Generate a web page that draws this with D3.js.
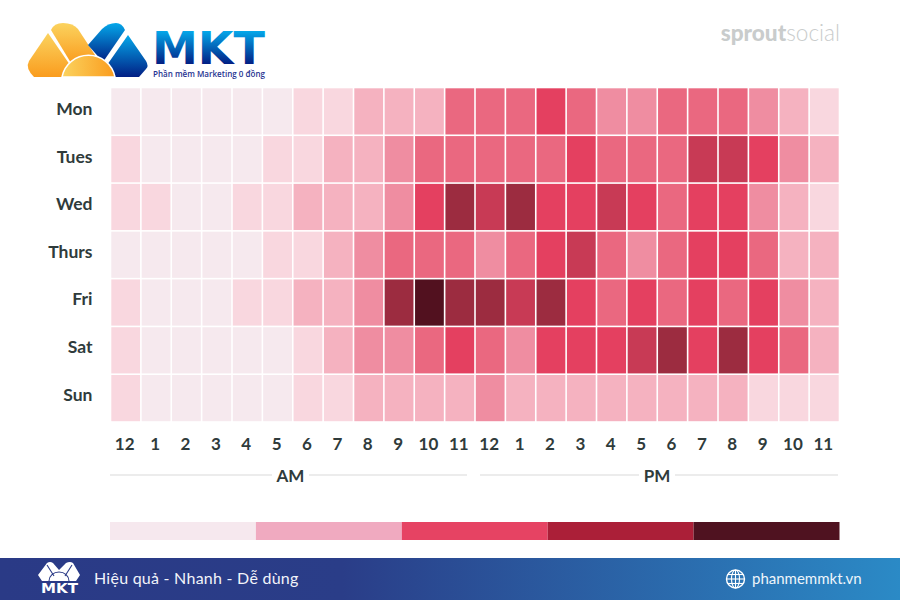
<!DOCTYPE html>
<html>
<head>
    <meta charset="utf-8">
    <script src="https://d3js.org/d3.v7.min.js"></script>
    <style>
        html, body { margin: 0; padding: 0; background: #fff; }
        svg { display: block; }
        text { font-family: Lato, "Open Sans", sans-serif; }
    </style>
</head>
<body>
    <svg id="chart" width="900" height="600"></svg>

    <script>
        // Chart data (engagement level per hour, 0 = lowest)
        var days = ["Mon", "Tues", "Wed", "Thurs", "Fri", "Sat", "Sun"];
        var hourLabels = ["12", "1", "2", "3", "4", "5", "6", "7", "8", "9", "10", "11",
                          "12", "1", "2", "3", "4", "5", "6", "7", "8", "9", "10", "11"];
        var mon   = [0, 0, 0, 0, 0, 0, 1, 1, 2, 2, 2, 4, 4, 4, 5, 4, 3, 3, 4, 4, 4, 3, 2, 1];
        var tues  = [1, 0, 0, 0, 0, 1, 1, 2, 2, 3, 4, 4, 4, 4, 4, 5, 4, 4, 4, 6, 6, 5, 3, 2];
        var wed   = [1, 1, 0, 0, 1, 1, 2, 2, 2, 3, 5, 7, 6, 7, 5, 5, 6, 5, 4, 5, 5, 3, 2, 1];
        var thurs = [0, 0, 0, 0, 0, 1, 1, 2, 3, 4, 4, 4, 3, 4, 5, 6, 4, 3, 4, 5, 5, 4, 2, 2];
        var fri   = [1, 0, 0, 0, 1, 1, 2, 2, 3, 7, 8, 7, 7, 6, 7, 5, 4, 5, 4, 5, 4, 5, 3, 2];
        var sat   = [1, 0, 0, 0, 0, 0, 1, 2, 3, 3, 4, 5, 4, 3, 5, 5, 5, 6, 7, 5, 7, 5, 4, 2];
        var sun   = [1, 0, 0, 0, 0, 0, 1, 1, 2, 2, 2, 2, 3, 2, 2, 2, 2, 2, 2, 2, 2, 1, 1, 1];
        var rows = [mon, tues, wed, thurs, fri, sat, sun];

        var levels = [0, 1, 2, 3, 4, 5, 6, 7, 8];
        var levelColors = ["#f6e9ee", "#f9d7df", "#f5b2c0", "#ef8da1", "#ea6880",
                           "#e44060", "#c83a55", "#9c2c40", "#52111f"];
        var legendSteps = [0, 1, 2, 3, 4];
        var legendColors = ["#f6e8ee", "#f0aac0", "#e64363", "#ab1f38", "#4f1220"];

        var svg = d3.select("#chart");
        var textColor = "#2f3b3b";

        var x = d3.scaleBand().domain(d3.range(24)).range([110.5, 839.5]);
        var y = d3.scaleBand().domain(days).range([87.5, 422]);
        var dayLabelY = d3.scalePoint().domain(days).range([115, 400.5]);
        var color = d3.scaleOrdinal().domain(levels).range(levelColors);

        // Heatmap cells
        svg.append("g").selectAll("g")
            .data(rows)
            .join("g")
            .each(function (row, r) {
                d3.select(this).selectAll("rect")
                    .data(row)
                    .join("rect")
                    .attr("x", (d, i) => x(i) + 0.8)
                    .attr("y", y(days[r]) + 0.8)
                    .attr("width", x.bandwidth() - 1.6)
                    .attr("height", y.bandwidth() - 1.6)
                    .attr("fill", d => color(d));
            });

        // Day labels
        svg.append("g").selectAll("text")
            .data(days)
            .join("text")
            .attr("x", 92.5)
            .attr("y", d => dayLabelY(d))
            .attr("text-anchor", "end")
            .attr("font-size", 17.5)
            .attr("font-weight", 700)
            .attr("fill", textColor)
            .text(d => d);

        // Hour labels
        svg.append("g").selectAll("text")
            .data(hourLabels)
            .join("text")
            .attr("x", (d, i) => x(i) + x.bandwidth() / 2 - 1)
            .attr("y", 450)
            .attr("text-anchor", "middle")
            .attr("font-size", 17)
            .attr("font-weight", 700)
            .attr("fill", textColor)
            .text(d => d);

        // AM / PM brackets
        var periods = [
            { label: "AM", x1: 110, x2: 467, left: 272, right: 309 },
            { label: "PM", x1: 480, x2: 838, left: 639, right: 675 }
        ];
        periods.forEach(p => {
            svg.append("line").attr("x1", p.x1).attr("x2", p.left).attr("y1", 475).attr("y2", 475)
                .attr("stroke", "#e6e6e6").attr("stroke-width", 1.5);
            svg.append("line").attr("x1", p.right).attr("x2", p.x2).attr("y1", 475).attr("y2", 475)
                .attr("stroke", "#e6e6e6").attr("stroke-width", 1.5);
            svg.append("text")
                .attr("x", (p.left + p.right) / 2)
                .attr("y", 482)
                .attr("text-anchor", "middle")
                .attr("font-size", 17)
                .attr("font-weight", 700)
                .attr("fill", textColor)
                .text(p.label);
        });

        // Legend bar
        var legendX = d3.scaleBand().domain(legendSteps).range([110, 839.5]);
        svg.append("g").selectAll("rect")
            .data(legendSteps)
            .join("rect")
            .attr("x", d => legendX(d))
            .attr("y", 522)
            .attr("width", legendX.bandwidth())
            .attr("height", 18)
            .attr("fill", (d, i) => legendColors[i]);

        // Legend captions, almost entirely hidden by the footer in the reference
        svg.append("text").attr("x", 110).attr("y", 570.5).attr("font-size", 17)
            .attr("letter-spacing", 0.5).attr("font-weight", 700).attr("fill", "#6f7777").text("Lowest Traffic");
        svg.append("text").attr("x", 675).attr("y", 570.5).attr("font-size", 17)
            .attr("letter-spacing", 0.5).attr("font-weight", 700).attr("fill", "#6f7777").text("Highest Traffic");

        // sproutsocial wordmark
        var wordmark = svg.append("text").attr("x", 840).attr("y", 41).attr("text-anchor", "end")
            .attr("font-size", 22.6).attr("fill", "#c9cccc");
        wordmark.append("tspan").attr("font-weight", 900).text("sprout");
        wordmark.append("tspan").attr("font-weight", 300).text("social");

        // Footer band
        var defs = svg.append("defs");
        var footerGrad = defs.append("linearGradient").attr("id", "footerGrad");
        footerGrad.append("stop").attr("offset", "0%").attr("stop-color", "#2a3a86");
        footerGrad.append("stop").attr("offset", "38%").attr("stop-color", "#2a3d88");
        footerGrad.append("stop").attr("offset", "100%").attr("stop-color", "#2b8ac6");
        svg.append("rect").attr("x", 0).attr("y", 558).attr("width", 900).attr("height", 42)
            .attr("fill", "url(#footerGrad)");

        svg.append("text").attr("x", 94).attr("y", 584).attr("font-size", 16)
            .attr("letter-spacing", 0.25).attr("fill", "#f2f4fa").text("Hiệu quả - Nhanh - Dễ dùng");
        svg.append("text").attr("x", 752).attr("y", 584).attr("font-size", 15)
            .attr("fill", "#eef5fb").text("phanmemmkt.vn");

        // Globe icon
        var globe = svg.append("g").attr("transform", "translate(735.5,579)")
            .attr("fill", "none").attr("stroke", "#fff").attr("stroke-width", 1.1);
        globe.append("circle").attr("r", 9).attr("stroke-width", 1.4);
        globe.append("ellipse").attr("rx", 4).attr("ry", 9);
        globe.append("line").attr("x1", 0).attr("x2", 0).attr("y1", -9).attr("y2", 9);
        globe.append("line").attr("x1", -9).attr("x2", 9).attr("y1", 0).attr("y2", 0);
        globe.append("line").attr("x1", -8).attr("x2", 8).attr("y1", -4.5).attr("y2", -4.5);
        globe.append("line").attr("x1", -8).attr("x2", 8).attr("y1", 4.5).attr("y2", 4.5);

        // Footer logo
        var small = svg.append("g");
        small.append("path").attr("fill", "#fff")
            .attr("d", "M38 575 L47 563 Q50 561 53 563 L59 570 L66 563 Q70 561 73 563 L80 575 L76 581 L42 581 Z");
        small.append("path").attr("fill", "none").attr("stroke", "#2a3a86").attr("stroke-width", 1.1)
            .attr("d", "M47 565 L54 576 M72 565 L65 576 M49 581 A10 9 0 0 1 69 581");
        small.append("text").attr("x", 41).attr("y", 593)
            .style("font-family", "'DejaVu Sans', sans-serif")
            .attr("font-size", 14).attr("font-weight", 700)
            .attr("textLength", 37).attr("lengthAdjust", "spacingAndGlyphs")
            .attr("fill", "#fff").text("MKT");

        // Header logo
        var orange = defs.append("linearGradient").attr("id", "logoOrange").attr("x2", 0).attr("y2", 1);
        orange.append("stop").attr("offset", "0%").attr("stop-color", "#fbd35f");
        orange.append("stop").attr("offset", "100%").attr("stop-color", "#fa9c1e");
        var blue = defs.append("linearGradient").attr("id", "logoBlue").attr("x2", 0).attr("y2", 1);
        blue.append("stop").attr("offset", "0%").attr("stop-color", "#04a8ea");
        blue.append("stop").attr("offset", "100%").attr("stop-color", "#021f84");
        var blueText = defs.append("linearGradient").attr("id", "logoBlueText")
            .attr("gradientUnits", "userSpaceOnUse").attr("x1", 0).attr("x2", 0).attr("y1", 31).attr("y2", 64);
        blueText.append("stop").attr("offset", "0%").attr("stop-color", "#04a8ea");
        blueText.append("stop").attr("offset", "100%").attr("stop-color", "#021f84");
        var sunGrad = defs.append("linearGradient").attr("id", "logoSun");
        sunGrad.append("stop").attr("offset", "0%").attr("stop-color", "#fbd35f");
        sunGrad.append("stop").attr("offset", "100%").attr("stop-color", "#fa9c1e");

        var logo = svg.append("g");
        logo.append("path").attr("fill", "url(#logoOrange)")
            .attr("d", "M34 77 Q25 68 29 61 L48 33 L70 65 L62 77 Z");
        logo.append("path").attr("fill", "url(#logoOrange)")
            .attr("d", "M51 30 Q54 23 63 23 Q73 23 78 29 L95 55 L90 62 L71 63 Z");
        logo.append("path").attr("fill", "url(#logoBlue)")
            .attr("d", "M88 45 L102 29 Q108 23 116 23 Q122 23 125 30 L103 62 Z");
        logo.append("path").attr("fill", "url(#logoBlue)")
            .attr("d", "M107 65 L128 35 L146 61 Q149 66 146 69 L139 77 L114 77 Z");
        logo.append("path").attr("fill", "url(#logoSun)").attr("stroke", "#fff").attr("stroke-width", 1.5)
            .attr("d", "M62 77 A27 27 0 0 1 115 77 Z");
        logo.append("text").attr("x", 152).attr("y", 64)
            .style("font-family", "'DejaVu Sans', sans-serif")
            .attr("font-size", 45).attr("font-weight", 700)
            .attr("textLength", 113).attr("lengthAdjust", "spacingAndGlyphs")
            .attr("fill", "url(#logoBlueText)").text("MKT");
        logo.append("text").attr("x", 153).attr("y", 77)
            .style("font-family", "'Open Sans', sans-serif")
            .attr("font-size", 8).attr("font-weight", 600)
            .attr("textLength", 112).attr("lengthAdjust", "spacingAndGlyphs")
            .attr("fill", "#1f3391").text("Phần mềm Marketing 0 đồng");
    </script>
</body>
</html>
